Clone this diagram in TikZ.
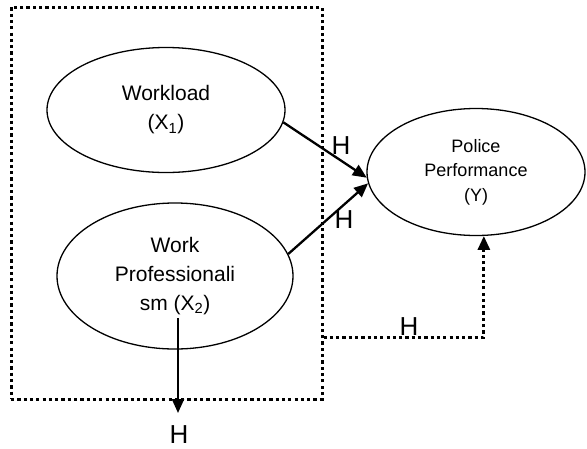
\documentclass[tikz,border=0pt]{standalone}
\usepackage{fontspec}
\setmainfont{Liberation Sans}
\usetikzlibrary{shapes.geometric,arrows.meta}
\begin{document}
\begin{tikzpicture}[x=1pt,y=-1pt,
  oval/.style={draw, ellipse, line width=1.3pt, inner sep=0pt, align=center},
  bigfont/.style={font=\fontsize{21}{29}\selectfont},
  smallfont/.style={font=\fontsize{18}{24.5}\selectfont},
  hlabel/.style={inner sep=0pt, font=\fontsize{26}{30}\selectfont},
  solidarrow/.style={line width=2.3pt, -{Triangle[length=14pt,width=12pt]}},
  dotline/.style={line width=3pt, dash pattern=on 3.2pt off 3.1pt},
  dotarrow/.style={dotline, -{Triangle[length=14pt,width=12pt]}}
]
\useasboundingbox (0,0) rectangle (587,448);
% dotted frame
\node[draw, dotline, minimum width=311pt, minimum height=392pt, inner sep=0pt] (box) at (166.5,203) {};
% ellipses
\node[oval, bigfont, minimum width=238pt, minimum height=125pt] (wl) at (166,110) {Workload\\(X\textsubscript{1})};
\node[oval, bigfont, minimum width=236pt, minimum height=146pt] (wp) at (175,276) {Work\\Professionali\\sm (X\textsubscript{2})};
\node[oval, smallfont, minimum width=218pt, minimum height=127pt] (pp) at (476,172) {Police\\Performance\\(Y)};
% labels
\node[hlabel] (h1) at (341,145.5) {H};
\node[hlabel] (h2) at (344,219.5) {H};
\node[hlabel] (h3) at (409,327) {H};
\node[hlabel] (h4) at (179,435) {H};
% connectors
\draw[solidarrow] (wl.-6) -- (pp.183);
\draw[solidarrow] (wp.11) -- (pp.186);
\coordinate (b3) at (box.east |- 0,337);
\draw[dotarrow] (b3) -| (pp.-83);
\coordinate (vs) at (178,318);
\coordinate (ve) at (178,413);
\draw[solidarrow] (vs) -- (ve);
\end{tikzpicture}
\end{document}
